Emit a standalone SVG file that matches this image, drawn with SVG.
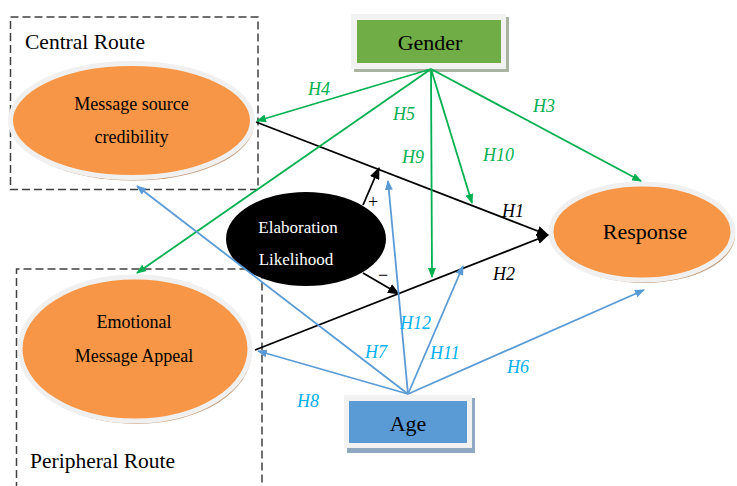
<svg xmlns="http://www.w3.org/2000/svg" width="737" height="486" viewBox="0 0 737 486">
<style>
.t{font-family:"Liberation Serif","Times New Roman",serif;fill:#000}
.lbl{font-family:"Liberation Serif","Times New Roman",serif;font-style:italic;font-size:18px}
.g{fill:#00B050}.b{fill:#00B0F0}.k{fill:#000}
.dash{fill:none;stroke:#404040;stroke-width:1.5;stroke-dasharray:8 4}
.ell{fill:#F79646;stroke:#F0F0F0;stroke-width:5}
.sh{fill:#C49A78}
.lg{stroke:#00B050;stroke-width:1.8;fill:none}
.lb{stroke:#5B9BD5;stroke-width:1.8;fill:none}
.lk{stroke:#000;stroke-width:1.8;fill:none}
</style>
<defs>
<marker id="ag" markerWidth="10" markerHeight="8" refX="9" refY="4" orient="auto" markerUnits="userSpaceOnUse"><path d="M0,0 L10,4 L0,8 Z" fill="#00B050"/></marker>
<marker id="ab" markerWidth="10" markerHeight="8" refX="9" refY="4" orient="auto" markerUnits="userSpaceOnUse"><path d="M0,0 L10,4 L0,8 Z" fill="#5B9BD5"/></marker>
<marker id="ak" markerWidth="12" markerHeight="10" refX="11" refY="5" orient="auto" markerUnits="userSpaceOnUse"><path d="M0,0 L12,5 L0,10 Z" fill="#000"/></marker>
</defs>

<g id="central-route">
<rect class="dash" x="10.5" y="17" width="247.5" height="172.5"/>
<text class="t" x="25" y="49" font-size="21.5">Central Route</text>
</g>
<g id="peripheral-route">
<path class="dash" d="M16.5,490 L16.5,269 L262,269 L262,490"/>
<text class="t" x="30" y="468" font-size="21.5">Peripheral Route</text>
</g>

<g id="msc">
<ellipse class="sh" cx="133" cy="123.5" rx="121" ry="57"/>
<ellipse class="ell" cx="131.5" cy="120.5" rx="121" ry="57"/>
<text class="t" x="131.5" y="110" font-size="18" text-anchor="middle">Message source</text>
<text class="t" x="131.5" y="143" font-size="18" text-anchor="middle">credibility</text>
</g>

<g id="ema">
<ellipse class="sh" cx="136.5" cy="352" rx="115" ry="72"/>
<ellipse class="ell" cx="135" cy="349" rx="115" ry="72"/>
<text class="t" x="134" y="328" font-size="18" text-anchor="middle">Emotional</text>
<text class="t" x="134" y="362" font-size="18" text-anchor="middle">Message Appeal</text>
</g>

<g id="response">
<ellipse class="sh" cx="644" cy="235" rx="91" ry="48"/>
<ellipse class="ell" cx="642" cy="232" rx="91" ry="48"/>
<text class="t" x="645" y="239" font-size="22" text-anchor="middle">Response</text>
</g>

<g id="elaboration">
<ellipse cx="306" cy="239" rx="80" ry="47" fill="#000"/>
<text class="t" x="298" y="233" font-size="17" text-anchor="middle" style="fill:#fff">Elaboration</text>
<text class="t" x="296" y="265" font-size="17" text-anchor="middle" style="fill:#fff">Likelihood</text>
</g>

<g id="gender">
<rect x="354" y="17" width="155" height="55" fill="#A9B39F"/>
<rect x="351" y="14" width="155" height="55" fill="#F2F2F2"/>
<rect x="357" y="20" width="144" height="43" fill="#70AD47"/>
<text class="t" x="430" y="50" font-size="22" text-anchor="middle">Gender</text>
</g>

<g id="age">
<rect x="347" y="398" width="128" height="55" fill="#8EA9C1"/>
<rect x="344" y="395" width="128" height="53" fill="#F2F2F2"/>
<rect x="349" y="401" width="118" height="42" fill="#5B9BD5"/>
<text class="t" x="408" y="431" font-size="22" text-anchor="middle">Age</text>
</g>

<g id="connectors">
<line class="lk" x1="256" y1="122" x2="548" y2="235" marker-end="url(#ak)"/>
<line class="lk" x1="255" y1="350" x2="548" y2="235" marker-end="url(#ak)"/>
<line class="lk" x1="363" y1="205" x2="379" y2="168" marker-end="url(#ak)"/>
<line class="lk" x1="363" y1="273" x2="399" y2="294" marker-end="url(#ak)"/>
<line class="lg" x1="431" y1="69" x2="257" y2="121" marker-end="url(#ag)"/>
<line class="lg" x1="431" y1="69" x2="137" y2="273" marker-end="url(#ag)"/>
<line class="lg" x1="431" y1="69" x2="432" y2="277" marker-end="url(#ag)"/>
<line class="lg" x1="431" y1="69" x2="472" y2="203" marker-end="url(#ag)"/>
<line class="lg" x1="431" y1="69" x2="641" y2="181" marker-end="url(#ag)"/>
<line class="lb" x1="408" y1="394" x2="388" y2="181" marker-end="url(#ab)"/>
<line class="lb" x1="408" y1="394" x2="463" y2="266" marker-end="url(#ab)"/>
<line class="lb" x1="408" y1="394" x2="644" y2="290" marker-end="url(#ab)"/>
<line class="lb" x1="408" y1="394" x2="258" y2="351" marker-end="url(#ab)"/>
<line class="lb" x1="408" y1="394" x2="137" y2="186" marker-end="url(#ab)"/>
<text class="lbl g" x="308" y="95">H4</text>
<text class="lbl g" x="393" y="120">H5</text>
<text class="lbl g" x="402" y="163">H9</text>
<text class="lbl g" x="483" y="161">H10</text>
<text class="lbl g" x="533" y="112">H3</text>
<text class="lbl k" x="502" y="217">H1</text>
<text class="lbl k" x="493" y="280">H2</text>
<text class="t" x="373" y="208" font-size="18" text-anchor="middle">+</text>
<text class="t" x="383" y="281" font-size="18" text-anchor="middle">−</text>
<text class="lbl b" x="400" y="329">H12</text>
<text class="lbl b" x="430" y="359">H11</text>
<text class="lbl b" x="507" y="373">H6</text>
<text class="lbl b" x="365" y="358">H7</text>
<text class="lbl b" x="297" y="407">H8</text>
</g>
</svg>
